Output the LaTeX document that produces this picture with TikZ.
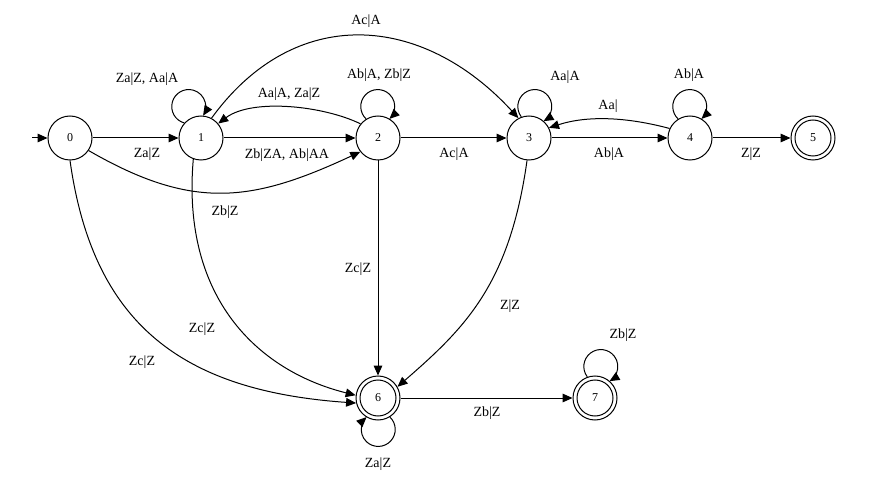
\documentclass[tikz,border=0pt]{standalone}
\usepackage{fontspec}
\setmainfont{Liberation Serif}
\usetikzlibrary{arrows.meta}
\begin{document}
\begin{tikzpicture}[x=0.75pt,y=0.75pt,
  state/.style={circle,draw,line width=0.75pt,minimum size=33pt,inner sep=0pt,
    font=\fontsize{9}{10}\selectfont},
  final/.style={state,path picture={\draw[line width=0.75pt]
    (path picture bounding box.center) circle[radius=13.5pt];}},
  lbl/.style={font=\fontsize{10.5}{12}\selectfont,inner sep=1pt},
  trans/.style={-{Triangle[length=7.5pt,width=6.5pt]},line width=0.75pt}
]
\useasboundingbox (0,0) rectangle (886,497);

% states
\node[state] (n0) at (70,359) {0};
\node[state] (n1) at (201,359) {1};
\node[state] (n2) at (378,359) {2};
\node[state] (n3) at (529,359) {3};
\node[state] (n4) at (690,359) {4};
\node[final] (n5) at (813,359) {5};
\node[final] (n6) at (378,99) {6};
\node[final] (n7) at (595,99) {7};
\coordinate (start) at (32,359);

% straight transitions
\draw[trans] (start) -- (n0);
\draw[trans] (n0) -- (n1);
\draw[trans] (n1) -- (n2);
\draw[trans] (n2) -- (n3);
\draw[trans] (n3) -- (n4);
\draw[trans] (n4) -- (n5);
\draw[trans] (n2) -- (n6);
\draw[trans] (n6) -- (n7);

% curved transitions
\draw[trans] (n2.141) .. controls +(154:42) and +(37:42) .. (n1.40);
\draw[trans] (n0.-34) .. controls +(-30:120) and +(205:120) .. (n2.-142);
\draw[trans] (n1.62) .. controls +(54:142) and +(132.5:142) .. (n3.118);
\draw[trans] (n4.155) .. controls +(165:45) and +(18:40) .. (n3.27);
\draw[trans] (n0.-90) .. controls +(-82:165) and +(176:175) .. (n6.193);
\draw[trans] (n1.-110) .. controls +(-95:140) and +(166:100) .. (n6.173);
\draw[trans] (n3.-95) .. controls +(-98:125) and +(41:90) .. (n6.30);

% self loops
\draw[trans] (n1.138.4) arc[start angle=254.8,end angle=-32.4,radius=12.75pt];
\draw[trans] (n2.122) arc[start angle=226.6,end angle=-46.6,radius=12.75pt];
\draw[trans] (n3.110) arc[start angle=217.3,end angle=-59.3,radius=12.75pt];
\draw[trans] (n4.122) arc[start angle=226.6,end angle=-46.6,radius=12.75pt];
\draw[trans] (n7.110) arc[start angle=217.3,end angle=-59.3,radius=12.75pt];
\draw[trans] (n6.-58) arc[start angle=46.6,end angle=-226.6,radius=12.75pt];

% transition labels
\node[lbl] (l01) at (147,343) {Za|Z};
\node[lbl] (l12) at (287,342) {Zb|ZA, Ab|AA};
\node[lbl] (l23) at (454,343) {Ac|A};
\node[lbl] (l34) at (609,343) {Ab|A};
\node[lbl] (l45) at (751,343) {Z|Z};
\node[lbl] (l21) at (289,403) {Aa|A, Za|Z};
\node[lbl] (l02) at (225,285) {Zb|Z};
\node[lbl] (l13) at (366,476) {Ac|A};
\node[lbl] (l43) at (608,391) {Aa|};
\node[lbl] (l26) at (358,228) {Zc|Z};
\node[lbl] (l16) at (202,168) {Zc|Z};
\node[lbl] (l06) at (142,135) {Zc|Z};
\node[lbl] (l36) at (510,191) {Z|Z};
\node[lbl] (l67) at (487,84) {Zb|Z};
\node[lbl] (l11) at (147,418) {Za|Z, Aa|A};
\node[lbl] (l22) at (379,422) {Ab|A, Zb|Z};
\node[lbl] (l33) at (565,420) {Aa|A};
\node[lbl] (l44) at (689,422) {Ab|A};
\node[lbl] (l77) at (623,162) {Zb|Z};
\node[lbl] (l66) at (378,33) {Za|Z};
\end{tikzpicture}
\end{document}
